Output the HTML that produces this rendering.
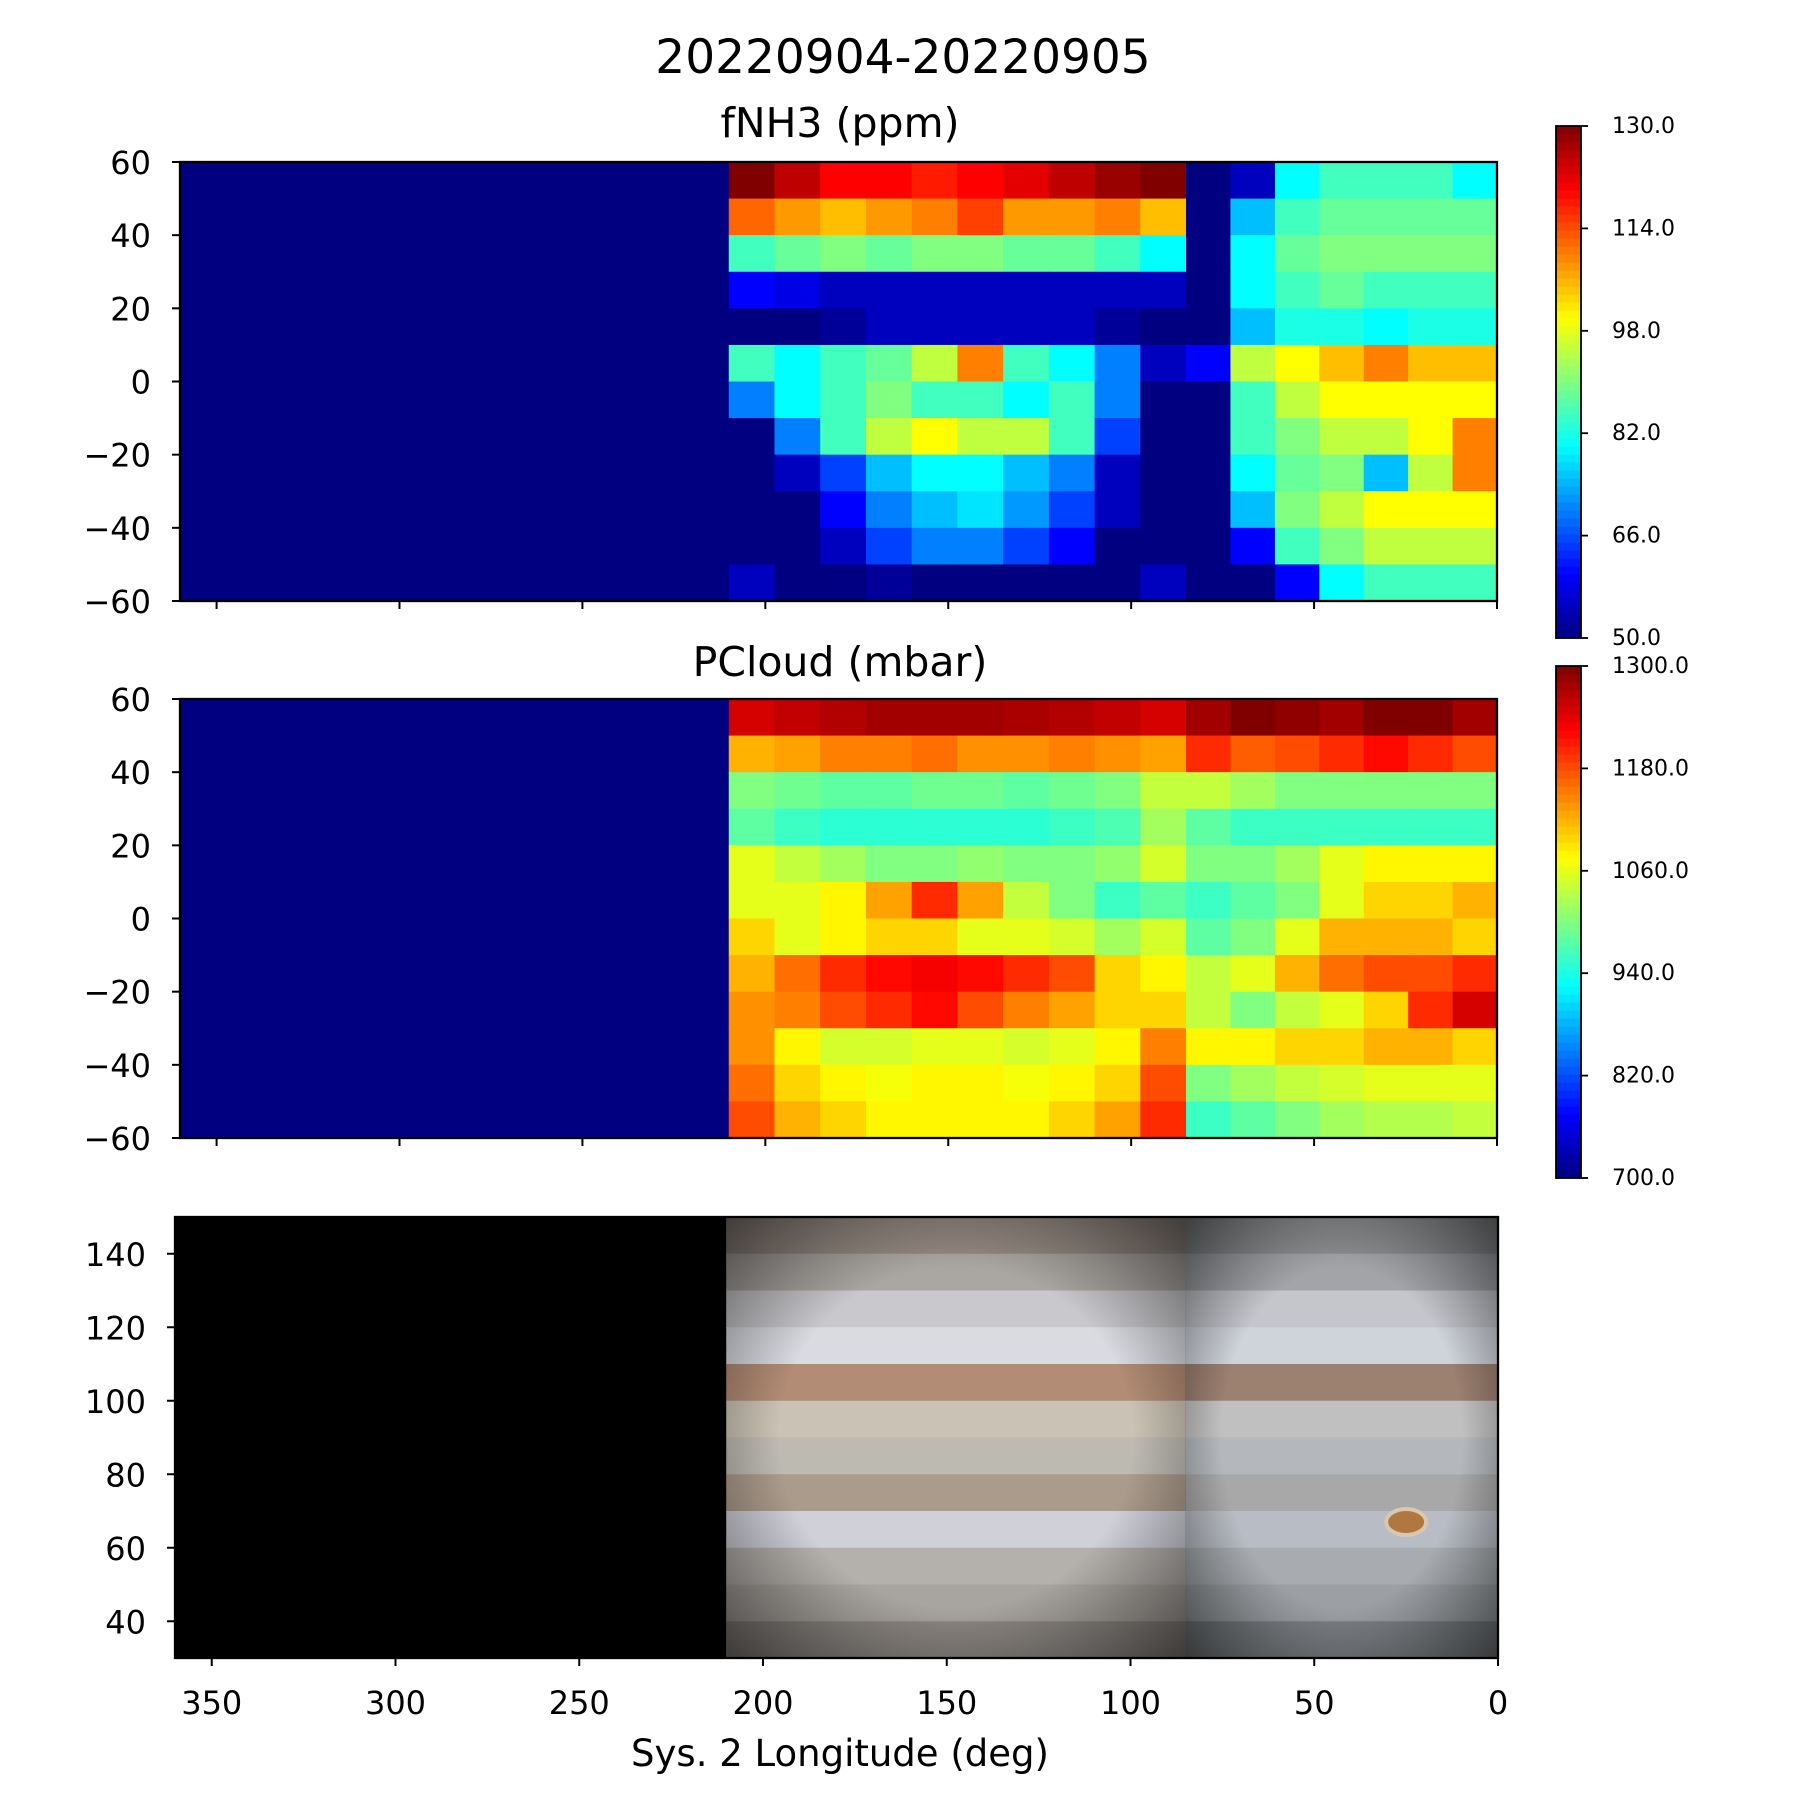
<!DOCTYPE html>
<html><head><meta charset="utf-8"><style>
body{margin:0;background:#fff}
svg{display:block;font-family:"DejaVu Sans","Liberation Sans",sans-serif}
</style></head><body>
<svg id="fig" width="1800" height="1800" viewBox="0 0 1800 1800" xmlns="http://www.w3.org/2000/svg">
<rect width="1800" height="1800" fill="#fff"/>
<text x="903" y="73" font-size="47" text-anchor="middle">20220904-20220905</text>
<text x="840" y="137" font-size="41" text-anchor="middle">fNH3 (ppm)</text>
<text x="840" y="676" font-size="41" text-anchor="middle">PCloud (mbar)</text>
<text x="840" y="1766" font-size="37" text-anchor="middle">Sys. 2 Longitude (deg)</text>
<g id="layer"></g>
</svg>
<script>
// ---------- data ----------
const latRows=[55,45,35,25,15,5,-5,-15,-25,-35,-45,-55];
const lonEdgesA=[210,197.5,185,172.5,160,147.5,135,122.5,110,97.5,85];
const lonEdgesB=[85,72.86,60.71,48.57,36.43,24.29,12.14,0];
const nh3A=[
[130,125,120,120,118,120,122,125,128,130],
[112,108,105,108,110,115,108,108,110,105],
[85,88,90,88,90,90,88,88,85,80],
[60,58,55,55,55,55,55,55,55,55],
[50,50,52,55,55,55,55,55,52,50],
[85,80,85,88,95,110,85,80,70,55],
[70,80,85,90,85,85,80,85,70,50],
[50,70,85,95,100,95,95,85,65,50],
[50,55,65,75,80,80,75,70,55,50],
[50,50,60,70,75,78,72,65,55,50],
[50,50,55,65,70,70,65,60,50,50],
[55,50,50,52,50,50,50,50,50,55]];
const nh3B=[
[50,55,80,85,85,85,80],
[50,75,85,88,88,88,88],
[50,80,88,90,90,90,90],
[50,80,85,88,85,85,85],
[50,75,82,82,80,82,82],
[60,95,100,105,110,105,105],
[50,85,95,100,100,100,100],
[50,85,90,95,95,100,110],
[50,80,88,90,75,95,110],
[50,75,90,95,100,100,100],
[50,60,85,90,95,95,95],
[50,50,60,80,85,85,85]];
const pcA=[
[1250,1260,1270,1280,1280,1280,1275,1270,1260,1250],
[1120,1130,1150,1150,1160,1140,1140,1150,1140,1130],
[1000,990,980,980,990,990,980,990,1000,1040],
[980,960,950,950,950,950,950,960,970,1020],
[1060,1040,1020,1000,1000,1010,1000,1000,1010,1050],
[1060,1060,1080,1130,1200,1130,1040,1000,960,980],
[1100,1060,1080,1100,1100,1060,1060,1050,1020,1050],
[1120,1160,1200,1220,1230,1220,1200,1180,1100,1080],
[1140,1150,1180,1200,1220,1180,1150,1130,1100,1100],
[1140,1080,1050,1050,1060,1060,1050,1060,1080,1150],
[1160,1100,1080,1070,1080,1080,1070,1080,1100,1180],
[1180,1120,1100,1080,1080,1080,1080,1100,1130,1200]];
const pcB=[
[1280,1300,1290,1280,1300,1300,1280],
[1200,1170,1180,1200,1220,1200,1180],
[1040,1020,1000,1000,1000,1000,1000],
[980,960,960,960,960,960,960],
[1000,1000,1020,1060,1080,1080,1080],
[960,980,1000,1060,1100,1100,1120],
[980,1000,1060,1120,1120,1120,1100],
[1040,1060,1120,1160,1180,1180,1200],
[1040,1000,1040,1060,1100,1200,1250],
[1080,1080,1100,1100,1120,1120,1100],
[1000,1020,1040,1050,1060,1060,1060],
[960,980,1000,1020,1030,1030,1040]];
const imgBands=[145,135,125,115,105,95,85,75,65,55,45,35];
const imgColorsA=["#958a82","#aaa6a2","#c9c9cd","#d9dbe1","#b28c74","#cac2b4","#bdbab2","#ab9b8b","#cfd0d8","#b4b0ac","#a8a49f","#8c8783"];
const imgColorsB=["#8c8e90","#a2a4a8","#c4c6cc","#cfd3da","#9c8070","#c0c0c0","#b4b8bc","#a8a8a8","#b8bcc4","#a8acb0","#9ca0a4","#7c8084"];
const xTicks=[350,300,250,200,150,100,50,0];
const latTicks=[60,40,20,0,-20,-40,-60];
const imgTicks=[140,120,100,80,60,40];
const cb1Ticks=[130,114,98,82,66,50];
const cb2Ticks=[1300,1180,1060,940,820,700];

// ---------- helpers ----------
const NS="http://www.w3.org/2000/svg";
const layer=document.getElementById('layer');
function mk(tag,attrs,parent){const e=document.createElementNS(NS,tag);for(const k in attrs)e.setAttribute(k,attrs[k]);(parent||layer).appendChild(e);return e;}
function jet(t){t=Math.max(0,Math.min(1,t));
 const f=x=>Math.max(0,Math.min(1,x));
 const r=f(1.5-Math.abs(4*t-3)),g=f(1.5-Math.abs(4*t-2)),b=f(1.5-Math.abs(4*t-1));
 return `rgb(${Math.round(r*255)},${Math.round(g*255)},${Math.round(b*255)})`;}

function heatPanel(name,box,ylo,yhi,ticks,dataA,dataB,vmin,vmax,bg){
 const X=l=>box.x0+(360-l)/360*(box.x1-box.x0);
 const Y=v=>box.y1-(v-ylo)/(yhi-ylo)*(box.y1-box.y0);
 const g=mk('g',{});
 
 
 const bgr=mk('rect',{x:box.x0,y:box.y0,width:box.x1-box.x0,height:box.y1-box.y0,fill:bg},g);
 
 
 [[dataA,lonEdgesA],[dataB,lonEdgesB]].forEach(([data,edges])=>{
  data.forEach((row,i)=>{row.forEach((v,j)=>{
   const x0=X(edges[j]),x1=X(edges[j+1]);
   const y0=Y(latRows[i]+5),y1=Y(latRows[i]-5);
   const c=mk('rect',{x:x0,y:y0,width:x1-x0+0.6,height:y1-y0+0.6,fill:jet((v-vmin)/(vmax-vmin))},g);
   
   
  });});
 });
 axes(name,box,X,Y,ticks,g);
 return {X,Y,g};
}
function axes(name,box,X,Y,ticks,g){
 const fr=mk('rect',{x:box.x0,y:box.y0,width:box.x1-box.x0,height:box.y1-box.y0,fill:'none',stroke:'#000','stroke-width':2.3},g);
 
 
 ticks.forEach(t=>{const y=Y(t);
  mk('line',{x1:box.x0-8,x2:box.x0,y1:y,y2:y,stroke:'#000','stroke-width':2},g);
  const tx=mk('text',{x:box.x0-29,y:y+12,'font-size':32,'text-anchor':'end'},g);
  tx.textContent=String(t).replace('-','\u2212');
  
  
 });
 xTicks.forEach(t=>{const x=X(t);
  mk('line',{x1:x,x2:x,y1:box.y1,y2:box.y1+8,stroke:'#000','stroke-width':2},g);
 });
}
function colorbar(name,x,y0,y1,ticks,vmin,vmax){
 const g=mk('g',{});
 
 
 const n=64;const h=(y1-y0)/n;
 for(let i=0;i<n;i++){mk('rect',{x:x,y:y1-(i+1)*h,width:25,height:h+0.6,fill:jet((i+0.5)/n)},g);}
 mk('rect',{x:x,y:y0,width:25,height:y1-y0,fill:'none',stroke:'#000','stroke-width':1.8},g);
 ticks.forEach(t=>{const y=y1-(t-vmin)/(vmax-vmin)*(y1-y0);
  mk('line',{x1:x+25,x2:x+32,y1:y,y2:y,stroke:'#000','stroke-width':1.8},g);
  const tx=mk('text',{x:x+56,y:y+7,'font-size':22},g);tx.textContent=t.toFixed(1);
  
  
 });
}

// panel 1 & 2
const box1={x0:180,x1:1497,y0:162,y1:601};
const box2={x0:180,x1:1497,y0:699,y1:1138};
heatPanel('fnh3',box1,-60,60,latTicks,nh3A,nh3B,50,130,jet(0));
heatPanel('pcloud',box2,-60,60,latTicks,pcA,pcB,700,1300,jet(0));

// panel 3 (image)
const box3={x0:175,x1:1498,y0:1217,y1:1658};
(function(){
 const X=l=>box3.x0+(360-l)/360*(box3.x1-box3.x0);
 const Y=v=>box3.y1-(v-30)/(150-30)*(box3.y1-box3.y0);
 const g=mk('g',{});
 
 
 mk('rect',{x:box3.x0,y:box3.y0,width:box3.x1-box3.x0,height:box3.y1-box3.y0,fill:'#000'},g);
 const defs=mk('defs',{},g);
 const rg=mk('radialGradient',{id:'vig',cx:'50%',cy:'50%',r:'70%'},defs);
 mk('stop',{offset:'0.55','stop-color':'#000','stop-opacity':0},rg);
 mk('stop',{offset:'1','stop-color':'#000','stop-opacity':0.55},rg);
 [[imgColorsA,210,85],[imgColorsB,85,0]].forEach(([cols,l0,l1])=>{
  imgBands.forEach((b,i)=>{
   const r=mk('rect',{x:X(l0),y:Y(b+5),width:X(l1)-X(l0),height:Y(b-5)-Y(b+5)+0.6,fill:cols[i]},g);
   
   
  });
  mk('rect',{x:X(l0),y:box3.y0,width:X(l1)-X(l0),height:box3.y1-box3.y0,fill:'url(#vig)'},g);
 });
 const grs=mk('ellipse',{cx:X(25),cy:Y(67),rx:20,ry:13,fill:'#b07840',stroke:'#d8c8b0','stroke-width':4},g);
 
 
 axes('image',box3,X,Y,imgTicks,g);
 xTicks.forEach(t=>{const tx=mk('text',{x:X(t),y:1714,'font-size':32,'text-anchor':'middle'},g);tx.textContent=t;
  
  });
})();

colorbar('fnh3-colorbar',1556,126,638,cb1Ticks,50,130);
colorbar('pcloud-colorbar',1556,666,1178,cb2Ticks,700,1300);
</script>
</body></html>
